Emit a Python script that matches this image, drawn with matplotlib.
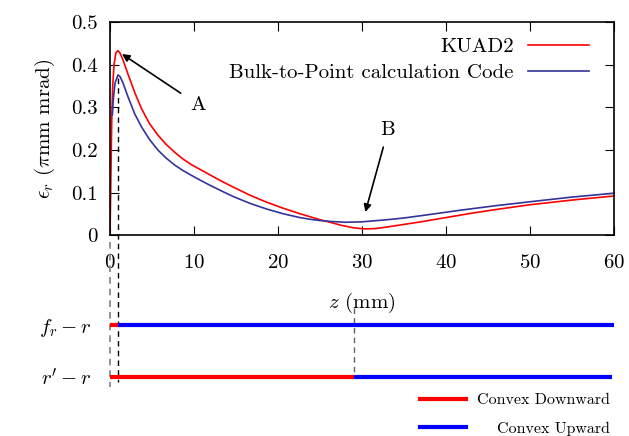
import matplotlib
matplotlib.use("Agg")
import matplotlib.pyplot as plt
import matplotlib.transforms as mtransforms
from matplotlib.lines import Line2D

plt.rcParams['font.family'] = 'serif'
plt.rcParams['font.serif'] = ['cmr10']
plt.rcParams['mathtext.fontset'] = 'cm'
plt.rcParams['axes.formatter.use_mathtext'] = True

# emittance along z
kuad_z = [0, 0.08, 0.15, 0.22, 0.32, 0.48, 0.7, 0.95, 1.2, 1.55, 2.14, 2.94, 3.73,
          4.7, 5.71, 6.7, 7.7, 8.7, 9.68, 10.7, 11.67, 13.2, 14.7, 16.7, 18.65,
          20.6, 22.6, 23.8, 25, 26.2, 27.5, 29, 30.2, 31.5, 33, 35, 37, 40, 43,
          46, 50, 55, 60]
kuad_eps = [0, 0.10, 0.20, 0.28, 0.35, 0.40, 0.428, 0.433, 0.427, 0.411, 0.378,
            0.335, 0.298, 0.262, 0.235, 0.213, 0.195, 0.179, 0.166, 0.155, 0.1445,
            0.128, 0.113, 0.094, 0.078, 0.064, 0.051, 0.044, 0.037, 0.031, 0.024,
            0.018, 0.0155, 0.016, 0.02, 0.026, 0.032, 0.042, 0.052, 0.061, 0.072,
            0.083, 0.0925]

btp_z = [0.28, 0.4, 0.6, 0.95, 1.2, 1.55, 2.14, 2.94, 3.73, 4.7, 5.71, 6.7, 7.7,
         8.7, 9.68, 10.7, 11.67, 13.2, 14.7, 16.7, 18.65, 20.6, 22.6, 23.8, 25,
         26.2, 28, 30, 33, 35, 38, 42, 46, 50, 55, 60]
btp_eps = [0.282, 0.32, 0.357, 0.376, 0.372, 0.357, 0.325, 0.285, 0.255, 0.225,
           0.2, 0.181, 0.165, 0.152, 0.141, 0.130, 0.12, 0.105, 0.091, 0.075,
           0.062, 0.051, 0.042, 0.038, 0.035, 0.033, 0.031, 0.032, 0.037, 0.041,
           0.049, 0.060, 0.070, 0.079, 0.09, 0.099]

# convexity bars: row label, z where red turns blue, end of bar
row_labels = ["$f_r - r$", "$r' - r$"]
row_y = [1, 0]
switch_z = [1.0, 29.1]
end_z = [60, 59.8]

xticks = [0, 10, 20, 30, 40, 50, 60]
yticks = [0, 0.1, 0.2, 0.3, 0.4, 0.5]
ytick_labels = ["0", "0.1", "0.2", "0.3", "0.4", "0.5"]

fig = plt.figure(figsize=(6.29, 4.36), dpi=100)
W, H = 629, 436

ax = fig.add_axes([110 / W, (H - 235.5) / H, 504 / W, 213.5 / H])
ax.plot(kuad_z, kuad_eps, color='#ff0000', lw=1.2, label='KUAD2')
ax.plot(btp_z, btp_eps, color='#333399', lw=1.2, label='Bulk-to-Point calculation Code')
ax.set_xlim(0, 60)
ax.set_ylim(0, 0.5)
ax.set_xticks(xticks)
ax.set_yticks(yticks)
ax.set_yticklabels(ytick_labels)
ax.tick_params(direction='in', length=6.5, width=0.8, top=True, right=True,
               labelsize=15, pad=9)
ax.tick_params(axis='x', pad=13)
for s in ax.spines.values():
    s.set_linewidth(1.2)
ax.set_xlabel("$z$ (mm)", fontsize=15, labelpad=14)
ax.set_ylabel(r"$\epsilon_r$ ($\pi$mm mrad)", fontsize=15, labelpad=10)

leg = ax.legend(loc='upper right', bbox_to_anchor=(0.95, 0.927), frameon=False,
                fontsize=15, markerfirst=False, handlelength=2.9, handletextpad=0.7,
                labelspacing=0.35, borderaxespad=0, borderpad=0)

ax.annotate("A", xy=(1.43, 0.425), xytext=(10.5, 0.306), fontsize=15,
            ha='center', va='center',
            arrowprops=dict(arrowstyle='-|>', color='black', lw=1.2,
                            shrinkA=6, shrinkB=0, mutation_scale=11))
ax.annotate("B", xy=(30.4, 0.055), xytext=(33.1, 0.247), fontsize=15,
            ha='center', va='center',
            arrowprops=dict(arrowstyle='-|>', color='black', lw=1.2,
                            shrinkA=4, shrinkB=0, mutation_scale=11))

# dashed guide lines (x in data, y in figure fraction)
trans = mtransforms.blended_transform_factory(ax.transData, fig.transFigure)
ax.plot([0, 0], [(H - 242) / H, (H - 387) / H], transform=trans, clip_on=False,
        color='#808080', lw=1.2, ls=(0, (4, 3)))
ax.plot([switch_z[0], switch_z[0]], [(H - 78) / H, (H - 382) / H], transform=trans,
        clip_on=False, color='black', lw=1.0, ls=(0, (4, 3)))
ax.plot([switch_z[1], switch_z[1]], [(H - 308) / H, (H - 377) / H], transform=trans,
        clip_on=False, color='#606060', lw=1.0, ls=(0, (4, 3)))

# lower panel with convexity bars
ax2 = fig.add_axes([110 / W, (H - 395) / H, 504 / W, 95 / H])
ax2.set_xlim(0, 60)
ax2.set_ylim(-0.346, 1.48)
for y, sz, ez in zip(row_y, switch_z, end_z):
    ax2.plot([0, sz], [y, y], color='#ff0000', lw=3, solid_capstyle='butt')
    ax2.plot([sz, ez], [y, y], color='#0000ff', lw=3, solid_capstyle='butt')
ax2.set_yticks(row_y)
ax2.set_yticklabels(row_labels)
ax2.tick_params(axis='y', length=0, labelsize=15, pad=13)
ax2.set_xticks([])
for s in ax2.spines.values():
    s.set_visible(False)
ax2.patch.set_visible(False)

handles = [Line2D([], [], color='#ff0000', lw=3), Line2D([], [], color='#0000ff', lw=3)]
leg2 = fig.legend(handles, ["Convex Downward", "Convex Upward"], loc='upper right',
                  bbox_to_anchor=(610 / W, (H - 393) / H), frameon=False, fontsize=11.5,
                  handlelength=2.9, handletextpad=0.7, labelspacing=0.9,
                  borderaxespad=0, borderpad=0)

# right-align the legend texts
fig.canvas.draw()
renderer = fig.canvas.get_renderer()
widths = [t.get_window_extent(renderer).width for t in leg2.get_texts()]
for t, w in zip(leg2.get_texts(), widths):
    t.set_position((max(widths) - w, 0))

fig.savefig("out.png", dpi=100)
